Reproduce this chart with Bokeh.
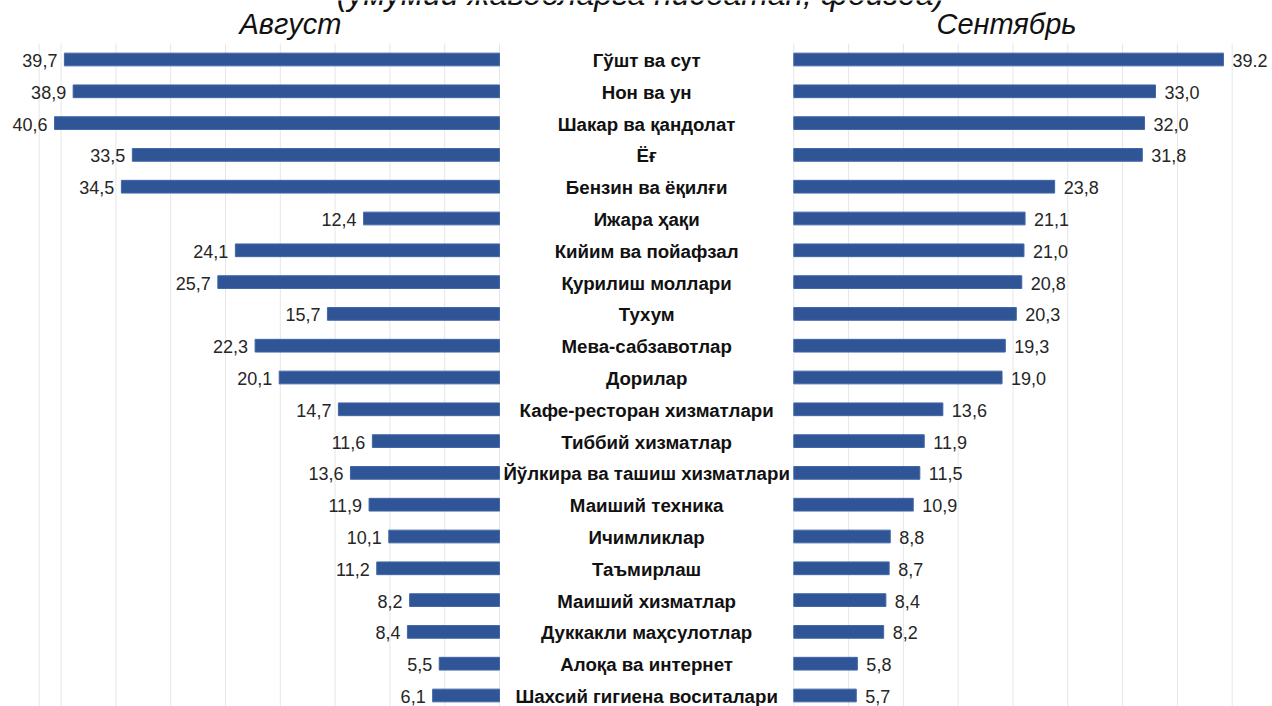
from bokeh.plotting import figure
from bokeh.models import ColumnDataSource, Range1d, Label
from bokeh.core.properties import value
from bokeh.embed import file_html
from bokeh.resources import INLINE

# ---- data -------------------------------------------------------------
categories = [
    "Гўшт ва сут", "Нон ва ун", "Шакар ва қандолат", "Ёғ", "Бензин ва ёқилғи",
    "Ижара ҳақи", "Кийим ва пойафзал", "Қурилиш моллари", "Тухум",
    "Мева-сабзавотлар", "Дорилар", "Кафе-ресторан хизматлари", "Тиббий хизматлар",
    "Йўлкира ва ташиш хизматлари", "Маиший техника", "Ичимликлар", "Таъмирлаш",
    "Маиший хизматлар", "Дуккакли маҳсулотлар", "Алоқа ва интернет",
    "Шахсий гигиена воситалари",
]
august = [39.7, 38.9, 40.6, 33.5, 34.5, 12.4, 24.1, 25.7, 15.7, 22.3, 20.1,
          14.7, 11.6, 13.6, 11.9, 10.1, 11.2, 8.2, 8.4, 5.5, 6.1]
september = [39.2, 33.0, 32.0, 31.8, 23.8, 21.1, 21.0, 20.8, 20.3, 19.3, 19.0,
             13.6, 11.9, 11.5, 10.9, 8.8, 8.7, 8.4, 8.2, 5.8, 5.7]
august_labels = ["39,7", "38,9", "40,6", "33,5", "34,5", "12,4", "24,1", "25,7",
                 "15,7", "22,3", "20,1", "14,7", "11,6", "13,6", "11,9", "10,1",
                 "11,2", "8,2", "8,4", "5,5", "6,1"]
september_labels = ["39.2", "33,0", "32,0", "31,8", "23,8", "21,1", "21,0", "20,8",
                    "20,3", "19,3", "19,0", "13,6", "11,9", "11,5", "10,9", "8,8",
                    "8,7", "8,4", "8,2", "5,8", "5,7"]
grid_ticks = [0, 5, 10, 15, 20, 25, 30, 35, 40]
panel_edge = 42
header_left = "Август"
header_right = "Сентябрь"
title_text = "(умумий жавобларга нисбатан, фоизда)"

# ---- geometry ----------------------------------------------------------
W, H = 1272, 706
PX = 10.96            # pixels per percent
CENTER_PX = 646.15    # centre of the label column
GAP = (793.3 - CENTER_PX) / PX
ROW0, ROWH = 59.0, 31.8

def xd(px):
    return (px - CENTER_PX) / PX

n = len(categories)
idx = list(range(n))

src = ColumnDataSource(dict(
    y=idx, cat=categories,
    aug_left=[-GAP - v for v in august], aug_right=[-GAP] * n,
    sep_left=[GAP] * n, sep_right=[GAP + v for v in september],
    aug_lab=august_labels, sep_lab=september_labels,
))

p = figure(width=W, height=H, output_backend="svg", toolbar_location=None,
           x_range=Range1d(xd(0), xd(W)),
           y_range=Range1d((H - ROW0) / ROWH, -ROW0 / ROWH),
           x_axis_type=None, y_axis_type=None, min_border=0,
           min_border_left=0, min_border_right=0, min_border_top=0, min_border_bottom=0)
p.margin = (0, 0, 0, 0)
p.grid.visible = False
p.outline_line_color = None
p.background_fill_color = "white"
p.border_fill_color = "white"

# gridlines
gx = [-GAP - t for t in grid_ticks] + [-GAP - panel_edge] + [GAP + t for t in grid_ticks]
p.segment(x0=gx, x1=gx, y0=[-0.5] * len(gx), y1=[n - 0.5] * len(gx),
          line_color="#e6e6e6", line_width=1)

BAR = "#2F5597"
p.hbar(y="y", left="aug_left", right="aug_right", height=0.4, source=src,
       fill_color=BAR, line_color="#4166a8", line_width=1)
p.hbar(y="y", left="sep_left", right="sep_right", height=0.4, source=src,
       fill_color=BAR, line_color="#4166a8", line_width=1)

FONT = value("Liberation Sans")
p.text(x=0, y="y", text="cat", source=src, text_align="center",
       text_baseline="middle", text_font=FONT, text_font_style="bold",
       text_font_size="18.7px", text_color="#111111", y_offset=1)
p.text(x="aug_left", y="y", text="aug_lab", source=src, text_align="right",
       text_baseline="middle", text_font=FONT, text_font_size="18px",
       text_color="#262626", x_offset=-7, y_offset=1)
p.text(x="sep_right", y="y", text="sep_lab", source=src, text_align="left",
       text_baseline="middle", text_font=FONT, text_font_size="18px",
       text_color="#262626", x_offset=9, y_offset=1)

# headers and (cropped) title
for txt, cx, base, size in [(header_left, 290, 23, "29px"),
                            (header_right, 1006, 23, "29px"),
                            (title_text, 640, -7, "32px")]:
    p.add_layout(Label(x=cx, y=H - base, x_units="screen", y_units="screen",
                       text=txt, text_align="center", text_baseline="alphabetic",
                       text_font="Liberation Sans", text_font_style="italic",
                       text_font_size=size, text_color="#111111"))

open("out.html", "w").write(file_html(p, INLINE))
